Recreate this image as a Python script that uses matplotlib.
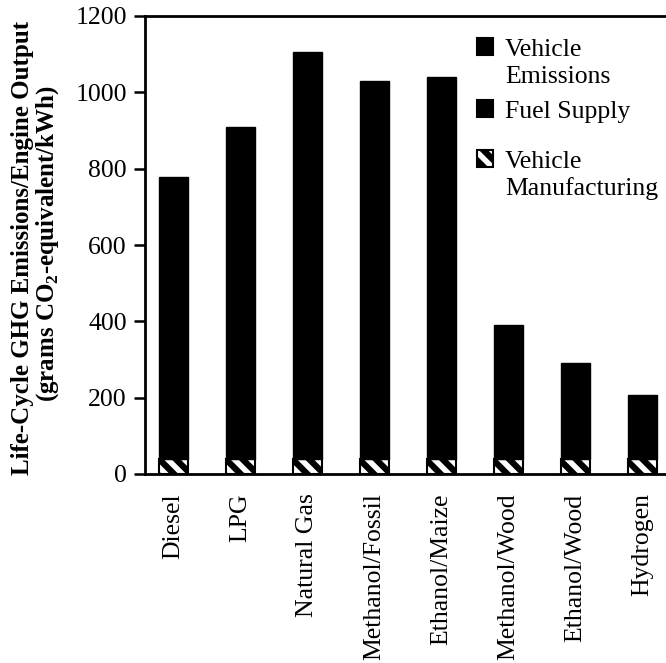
import numpy as np
import matplotlib
matplotlib.use("Agg")
import matplotlib.pyplot as plt
from matplotlib.patches import Rectangle

plt.rcParams['font.family'] = ['Liberation Serif', 'DejaVu Serif']
plt.rcParams['mathtext.fontset'] = 'custom'
plt.rcParams['mathtext.rm'] = 'Liberation Serif:bold'
plt.rcParams['mathtext.bf'] = 'Liberation Serif:bold'
plt.rcParams['hatch.linewidth'] = 4.5
plt.rcParams['hatch.color'] = 'black'

# данные
fuels = ['Diesel', 'LPG', 'Natural Gas', 'Methanol/Fossil', 'Ethanol/Maize',
         'Methanol/Wood', 'Ethanol/Wood', 'Hydrogen']
total = [777, 908, 1105, 1030, 1040, 390, 291, 206]   # полная высота столбца
manufacturing = [40, 40, 40, 40, 40, 40, 40, 40]      # заштрихованная часть
# выбросы автомобиля и топливо - оба чёрные, рисуем одним куском
black_part = [t - m for t, m in zip(total, manufacturing)]

yticks = [0, 200, 400, 600, 800, 1000, 1200]

fig = plt.figure(figsize=(6.66, 6.63), dpi=100)
ax = fig.add_axes([145 / 666, 1 - 474 / 663, 521 / 666, 458 / 663])

x = np.arange(len(fuels))
w = 0.43
ax.bar(x, manufacturing, w, color='white', edgecolor='black', hatch='\\\\',
       linewidth=1.5)
ax.bar(x, black_part, w, bottom=manufacturing, color='black', edgecolor='black')

ax.set_xlim(-0.425, 7.35)
ax.set_ylim(0, 1200)
ax.set_yticks(yticks)
ax.set_xticks(x)
ax.set_xticklabels(fuels, rotation=90, fontsize=18.5, va='top', ha='center')
ax.tick_params(axis='x', length=0, pad=14)
ax.tick_params(axis='y', length=8, width=1.8, pad=5, labelsize=18.5)
for s in ['left', 'bottom', 'top']:
    ax.spines[s].set_linewidth(2)
ax.spines['right'].set_visible(False)

# подпись оси Y в две строки
fig.text(23 / 666, 1 - 248 / 663, 'Life-Cycle GHG Emissions/Engine Output',
         rotation=90, fontsize=18, fontweight='bold', ha='center', va='center')
fig.text(48 / 666, 1 - 244 / 663, '(grams CO$_{2}$-equivalent/kWh)',
         rotation=90, fontsize=18, fontweight='bold', ha='center', va='center')

# легенда вручную
def px(xp, yp):
    return xp / 666, 1 - yp / 663

entries = [
    (38, ['Vehicle', 'Emissions'], dict(facecolor='black', edgecolor='black')),
    (100, ['Fuel Supply'], dict(facecolor='black', edgecolor='black')),
    (150, ['Vehicle', 'Manufacturing'], dict(facecolor='white', edgecolor='black',
                                             hatch='\\\\')),
]
for top, lines, style in entries:
    x0, y0 = px(477, top + 17)
    fig.patches.append(Rectangle((x0, y0), 16 / 666, 17 / 663,
                                 transform=fig.transFigure, linewidth=1.5, **style))
    for k, line in enumerate(lines):
        tx, ty = px(505, top + 18 + 27 * k)
        fig.text(tx, ty, line, fontsize=18.5, ha='left', va='baseline')

fig.savefig('out.png', dpi=100)
